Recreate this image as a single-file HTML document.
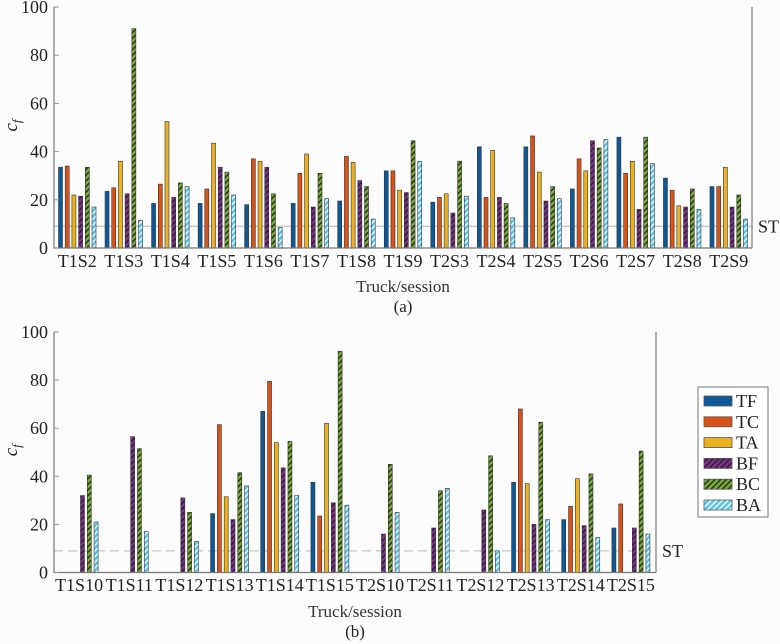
<!DOCTYPE html>
<html><head><meta charset="utf-8"><style>
html,body{margin:0;padding:0;background:#fcfcfc;}
svg{display:block;font-family:"Liberation Serif",serif;}
</style></head><body>
<svg id="chart" width="780" height="644" viewBox="0 0 780 644">
<defs>
<pattern id="hBF" patternUnits="userSpaceOnUse" width="4" height="4" patternTransform="rotate(45)"><rect width="4" height="4" fill="#7e2f8e"/><rect width="1.3" height="4" fill="#222"/></pattern>
<pattern id="hBC" patternUnits="userSpaceOnUse" width="4" height="4" patternTransform="rotate(45)"><rect width="4" height="4" fill="#77ac30"/><rect width="1.3" height="4" fill="#222"/></pattern>
<pattern id="hBA" patternUnits="userSpaceOnUse" width="4" height="4" patternTransform="rotate(45)"><rect width="4" height="4" fill="#5cc6ea"/><rect width="1.3" height="4" fill="#fff"/></pattern>
</defs>
<g id="panelA"></g>
<g id="panelB"></g>
<g id="legend"></g>
</svg>
<script>
const seriesNames = ["TF","TC","TA","BF","BC","BA"];
const seriesFills = ["#0d5896","#d95319","#edb120","url(#hBF)","url(#hBC)","url(#hBA)"];
const catsA = ["T1S2","T1S3","T1S4","T1S5","T1S6","T1S7","T1S8","T1S9","T2S3","T2S4","T2S5","T2S6","T2S7","T2S8","T2S9"];
const TF_A = [33.5,23.5,18.5,18.5,18,18.5,19.5,32,19,42,42,24.5,46,29,25.5];
const TC_A = [34,25,26.5,24.5,37,31,38,32,21,21,46.5,37,31,24,25.5];
const TA_A = [22,36,52.5,43.5,36,39,35.5,24,22.5,40.5,31.5,32,36,17.5,33.5];
const BF_A = [21.5,22.5,21,33.5,33.5,17,28,23,14.5,21,19.5,44.5,16,17,17];
const BC_A = [33.5,91,27,31.5,22.5,31,25.5,44.5,36,18.5,25.5,41.5,46,24.5,22];
const BA_A = [17,11.5,25.5,22,8.5,20.5,12,36,21.5,12.5,20.5,45,35,16,12];
const catsB = ["T1S10","T1S11","T1S12","T1S13","T1S14","T1S15","T2S10","T2S11","T2S12","T2S13","T2S14","T2S15"];
const TF_B = [0,0,0,24.5,67,37.5,0,0,0,37.5,22,18.5];
const TC_B = [0,0,0,61.5,79.5,23.5,0,0,0,68,27.5,28.5];
const TA_B = [0,0,0,31.5,54,62,0,0,0,37,39,0];
const BF_B = [32,56.5,31,22,43.5,29,16,18.5,26,20,19.5,18.5];
const BC_B = [40.5,51.5,25,41.5,54.5,92,45,34,48.5,62.5,41,50.5];
const BA_B = [21,17,13,36,32,28,25,35,9,22,14.5,16];
const yTicks = [0,20,40,60,80,100];
const stValue = 9;
const NS="http://www.w3.org/2000/svg";
function mk(tag,attrs,parent){const e=document.createElementNS(NS,tag);for(const k in attrs)e.setAttribute(k,attrs[k]);parent.appendChild(e);return e;}

function panel(g,cats,series,cfg){
  const {x0,x1,yb,yt,pitch,labelY,titleY,capY,cap,dash}=cfg;
  const gw=(x1-x0)/cats.length;
  const xs=i=>x0+gw*(i+0.5);
  const ys=v=>yb-(v/100)*(yb-yt);
  const st=mk('line',{x1:x0,x2:x1,y1:ys(stValue),y2:ys(stValue),stroke:'#c8c8c8','stroke-width':1.3,'stroke-dasharray':dash?'9 5':'none'},g);
  
  
  const stl=mk('text',{x:x1+6,y:ys(stValue)+6,'font-size':18,fill:'#222'},g);stl.textContent='ST';
  
  
  cats.forEach((c,i)=>{
    series.forEach((arr,j)=>{
      const v=arr[i]; if(!v) return;
      const bx=xs(i)+(j-2.5)*pitch-2;
      const r=mk('rect',{x:bx,y:ys(v),width:4,height:yb-ys(v),fill:seriesFills[j],stroke:'#333','stroke-width':0.6},g);
      
      
    });
    const t=mk('text',{x:xs(i),y:labelY,'font-size':18,'text-anchor':'middle',fill:'#222'},g);t.textContent=c;
    
    
  });
  const ax=mk('path',{d:`M${x0},${yt} V${yb} H${x1} M${x1},${yt} V${yb}`,stroke:'#777','stroke-width':1.2,fill:'none'},g);
  
  
  yTicks.forEach(v=>{
    const tk=mk('line',{x1:x0,x2:x0+5,y1:ys(v),y2:ys(v),stroke:'#999'},g);
    
    
    const t=mk('text',{x:x0-6,y:ys(v)+6,'font-size':18,'text-anchor':'end',fill:'#222'},g);t.textContent=v;
    
    
  });
  const yl=mk('text',{x:0,y:0,'font-size':19,'font-style':'italic',fill:'#222',transform:`translate(17,${(yb+yt)/2+4}) rotate(-90)`},g);
  yl.innerHTML='c<tspan font-size="13" dy="4">f</tspan>';
  
  
  const xt=mk('text',{x:(x0+x1)/2,y:titleY,'font-size':17,'text-anchor':'middle',fill:'#333'},g);xt.textContent='Truck/session';
  
  
  const cp=mk('text',{x:(x0+x1)/2,y:capY,'font-size':17,'text-anchor':'middle',fill:'#222'},g);cp.textContent=cap;
  
  
}
panel(document.getElementById('panelA'),catsA,[TF_A,TC_A,TA_A,BF_A,BC_A,BA_A],
  {x0:54,x1:752,yb:248,yt:7,pitch:6.7,labelY:267,titleY:292,capY:312,cap:'(a)',dash:false});
panel(document.getElementById('panelB'),catsB,[TF_B,TC_B,TA_B,BF_B,BC_B,BA_B],
  {x0:54,x1:656,yb:572.5,yt:332,pitch:6.8,labelY:591,titleY:617,capY:637,cap:'(b)',dash:true});
const lg=document.getElementById('legend');
const box=mk('rect',{x:698,y:387,width:70,height:130,fill:'#fff',stroke:'#777','stroke-width':1},lg);


seriesNames.forEach((n,j)=>{
  const cy=401+j*20.8;
  const gr=mk('g',{},lg);
  
  
  mk('rect',{x:704,y:cy-5,width:28,height:10,fill:seriesFills[j],stroke:'#555','stroke-width':0.8},gr);
  const t=mk('text',{x:736,y:cy+6,'font-size':18,fill:'#222'},gr);t.textContent=n;
});
</script>
</body></html>
